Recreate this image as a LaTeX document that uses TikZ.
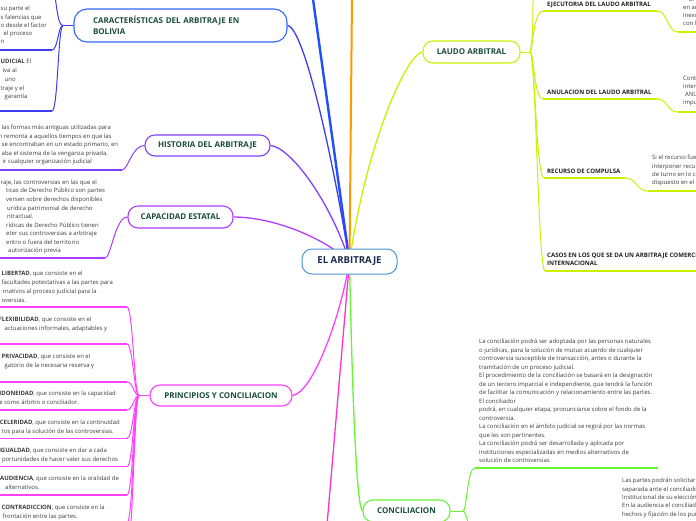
\documentclass[tikz,border=0pt]{standalone}
\usepackage{fontspec}
\setmainfont{Open Sans}
\usetikzlibrary{backgrounds}
\definecolor{cblue}{HTML}{1F4FFF}
\definecolor{corange}{HTML}{FF9A00}
\definecolor{ccar}{HTML}{3366FF}
\definecolor{ccarl}{HTML}{3C3CF0}
\definecolor{chist}{HTML}{8040FF}
\definecolor{ccap}{HTML}{B03CFF}
\definecolor{cprin}{HTML}{FF40FF}
\definecolor{cmag}{HTML}{FF33CC}
\definecolor{claudo}{HTML}{CCF000}
\definecolor{cconc}{HTML}{66F533}
\definecolor{croot}{HTML}{4D94D5}
\definecolor{hcol}{HTML}{1B4D3E}
\definecolor{rcol}{HTML}{1B2B4B}
\definecolor{tcol}{HTML}{3A3A3A}
\definecolor{scol}{HTML}{222222}
\tikzset{
  topic/.style={draw, rounded corners=10pt, line width=1.1pt, fill=white, text=hcol,
    font=\bfseries\fontsize{8}{10.5}\selectfont, inner sep=0pt, align=center},
  rootbox/.style={draw=croot, line width=1pt, rounded corners=10pt, fill=white, text=rcol,
    font=\bfseries\fontsize{9.6}{11}\selectfont, inner sep=0pt},
  sublbl/.style={text=scol, font=\bfseries\fontsize{6.1}{8}\selectfont, inner sep=0pt,
    anchor=north west, align=left},
  leaf/.style={text=tcol, font=\fontsize{5.95}{#1}\selectfont, inner sep=0pt,
    anchor=north west, align=left},
  leaf/.default=8.5,
  conn/.style={line width=1pt},
  uline/.style={line width=1.5pt},
  trunk/.style={line width=1.3pt},
}
\begin{document}
\begin{tikzpicture}[x=1pt,y=-1pt]
\useasboundingbox (0,0) rectangle (696,520);
\clip (0,0) rectangle (696,520);

% ---------- topic nodes ----------
\node[rootbox, minimum width=95pt, minimum height=25pt] (root) at (349.5,261.5) {EL ARBITRAJE};
\node[topic, draw=ccar, rounded corners=13pt, minimum width=213pt, minimum height=33pt,
  text width=175pt, align=left] (car) at (180.5,25.5) {CARACTERÍSTICAS DEL ARBITRAJE EN\\BOLIVIA};
\node[topic, draw=chist, minimum width=125pt, minimum height=21pt] (hist) at (207.5,145.5) {HISTORIA DEL ARBITRAJE};
\node[topic, draw=ccap, minimum width=105pt, minimum height=22pt] (cap) at (180.5,217) {CAPACIDAD ESTATAL};
\node[topic, draw=cprin, minimum width=142pt, minimum height=21pt] (prin) at (221,395.5) {PRINCIPIOS Y CONCILIACION};
\node[topic, draw=claudo, minimum width=97pt, minimum height=22pt] (laudo) at (471.5,52) {LAUDO ARBITRAL};
\node[topic, draw=cconc, minimum width=87pt, minimum height=22pt] (conc) at (406.5,511) {CONCILIACION};

% ---------- free ends ----------
\coordinate (topblue) at (312.7,-3);
\coordinate (toporange) at (352,-3);
\coordinate (botmag) at (327,525);
\coordinate (lj) at (530,52);
\coordinate (cj0) at (63,25.5);
\coordinate (pj) at (139,395.5);
\coordinate (cj) at (463,511);

% ---------- main connectors (behind the boxes) ----------
\begin{scope}[on background layer]
\draw[cblue, line width=2.4pt] (root.center) -- (topblue);
\draw[corange, line width=2pt] (root.center) -- (toporange);
\draw[ccarl, trunk] (car.east) .. controls (305,28) and (335,170) .. (root.center);
\draw[chist, trunk] (hist.east) .. controls (290,147) and (330,200) .. (root.center);
\draw[ccap, trunk] (cap.east) .. controls (270,217) and (320,235) .. (root.center);
\draw[claudo, trunk] (laudo.west) .. controls (405,55) and (365,150) .. (root.center);
\draw[cprin, trunk] (prin.east) .. controls (312,393) and (340,320) .. (root.center);
\draw[cmag, trunk] (root.center) -- (botmag);
\draw[cconc, trunk] (root.center) .. controls (352,380) and (356,505) .. (conc.west);
\end{scope}

% ---------- CARACTERISTICAS subtree ----------
\coordinate (cl1) at (-3,50);
\coordinate (cl2) at (-3,111);
\coordinate (cl1e) at (52,50);
\coordinate (cl2e) at (52,111);
\draw[ccarl, conn] (car.west) -- (cj0);
\draw[ccarl, conn] (cj0) .. controls (58,25.5) and (57,8) .. (55,-3);
\draw[ccarl, conn] (cj0) .. controls (58,25.5) and (58,50) .. (cl1e);
\draw[ccarl, conn] (cj0) .. controls (58,25.5) and (58,111) .. (cl2e);
\draw[ccarl, uline] (cl1e) -- (cl1);
\draw[ccarl, uline] (cl2e) -- (cl2);
\node[leaf=8.25] (carl1) at (0.5,6.2) {su parte el\\s falencias que\\o desde el factor\\\hspace*{3pt}el proceso\\n};
\node[leaf=8.7] (carl2) at (0.5,59.2) {\textbf{UDICIAL} El\\\hspace*{2pt}iva al\\\hspace*{4pt}uno\\traje y el\\\hspace*{4pt}garantía};

% ---------- HISTORIA subtree ----------
\coordinate (hl) at (-3,170);
\coordinate (hle) at (122,170);
\draw[chist, conn] (hist.west) .. controls (132,145.5) and (128,170) .. (hle);
\draw[chist, uline] (hle) -- (hl);
\node[leaf=8.6] (histl) at (1.5,124.7) {las formas más antiguas utilizadas para\\\hspace*{-3pt}n remonta a aquellos tiempos en que las\\se encontraban en un estado primario, en\\aba el sistema de la venganza privada,\\\hspace*{1pt}ir cualquier organización judicial};

% ---------- CAPACIDAD subtree ----------
\coordinate (cpl) at (-3,258);
\coordinate (cple) at (105,258);
\draw[ccap, conn] (cap.west) .. controls (115,217) and (111,258) .. (cple);
\draw[ccap, uline] (cple) -- (cpl);
\node[leaf=8.55] (capl) at (6,179.7) {\hspace*{-5.5pt}raje, las controversias en las que el\\ticas de Derecho Público son partes\\versen sobre derechos disponibles\\\hspace*{1pt}urídica patrimonial de derecho\\\hspace*{1pt}ntractual.\\rídicas de Derecho Público tienen\\eter sus controversias a arbitraje\\entro o fuera del territorio\\\hspace*{2pt}autorización previa};

% ---------- PRINCIPIOS subtree ----------
\draw[cprin, conn] (prin.west) -- (pj);
\foreach \yy/\nm in {307/p1,344/p2,382/p3,410/p4,438.3/p5,466.7/p6,495/p7,523/p8,552/p9} {
  \coordinate (\nm e) at (127,\yy);
  \coordinate (\nm s) at (-3,\yy);
  \draw[cprin, conn] (pj) .. controls (134,395.5) and (133,\yy) .. (\nm e);
  \draw[cprin, uline] (\nm e) -- (\nm s);
}
\node[leaf=8.7] (lib) at (1.5,271.2) {\textbf{LIBERTAD}, que consiste en el\\facultades potestativas a las partes para\\\hspace*{1pt}rnativos al proceso judicial para la\\oversias.};
\node[leaf=8.7] (flex) at (-1.5,317.2) {\textbf{FLEXIBILIDAD}, que consiste en el\\\hspace*{6pt}actuaciones informales, adaptables y};
\node[leaf=8.7] (priv) at (1.5,354.2) {\textbf{PRIVACIDAD}, que consiste en el\\\hspace*{3pt}gatorio de la necesaria reserva y};
\node[leaf=8.7] (idon) at (-0.8,391.2) {\textbf{IDONEIDAD}, que consiste en la capacidad\\e como árbitro o conciliador.};
\node[leaf=8.3] (celer) at (-0.3,420.2) {\textbf{CELERIDAD}, que consiste en la continuidad\\\hspace*{2pt}tos para la solución de las controversias.};
\node[leaf=8.7] (igual) at (-1.2,448.2) {\textbf{IGUALDAD}, que consiste en dar a cada\\\hspace*{3pt}portunidades de hacer valer sus derechos};
\node[leaf=8.7] (aud) at (0,476.2) {\textbf{AUDIENCIA}, que consiste en la oralidad de\\\hspace*{5pt}alternativos.};
\node[leaf=8.3] (contr) at (1.5,505.2) {\textbf{CONTRADICCION}, que consiste en la\\\hspace*{1pt}frontación entre las partes.};

% ---------- LAUDO subtree ----------
\coordinate (ltop) at (533,-3);
\coordinate (l1s) at (543,11);   \coordinate (l1e) at (657,11);
\coordinate (l2s) at (543,99);   \coordinate (l2e) at (657,99);
\coordinate (l3s) at (544,178);  \coordinate (l3e) at (625,178);
\coordinate (l4s) at (545,271);  \coordinate (l4e) at (700,271);
\coordinate (lf1) at (678,32);   \coordinate (lf1e) at (700,32);
\coordinate (lf2) at (678,112);  \coordinate (lf2e) at (700,112);
\coordinate (lf3) at (648,191);  \coordinate (lf3e) at (700,191);
\draw[claudo, conn] (laudo.east) -- (lj);
\draw[claudo, conn] (lj) .. controls (533,40) and (533,15) .. (ltop);
\draw[claudo, conn] (lj) .. controls (533,52) and (533,11) .. (l1s);
\draw[claudo, conn] (lj) .. controls (534,52) and (534,99) .. (l2s);
\draw[claudo, conn] (lj) .. controls (535,52) and (536,178) .. (l3s);
\draw[claudo, conn] (lj) .. controls (536,52) and (538,271) .. (l4s);
\draw[claudo, uline] (l1s) -- (l1e);
\draw[claudo, uline] (l2s) -- (l2e);
\draw[claudo, uline] (l3s) -- (l3e);
\draw[claudo, uline] (l4s) -- (l4e);
\draw[claudo, conn] (l1e) .. controls (668,11) and (667,32) .. (lf1);
\draw[claudo, conn] (l2e) .. controls (668,99) and (667,112) .. (lf2);
\draw[claudo, conn] (l3e) .. controls (637,178) and (636,191) .. (lf3);
\draw[claudo, uline] (lf1) -- (lf1e);
\draw[claudo, uline] (lf2) -- (lf2e);
\draw[claudo, uline] (lf3) -- (lf3e);
\node[sublbl] (ejec) at (547,1.8) {EJECUTORIA DEL LAUDO ARBITRAL};
\node[sublbl] (anul) at (547,89.8) {ANULACION DEL LAUDO ARBITRAL};
\node[sublbl] (recu) at (547,168.8) {RECURSO DE COMPULSA};
\node[sublbl] (casos) at (547,252.8) {CASOS EN LOS QUE SE DA UN ARBITRAJE COMERCIAL\\INTERNACIONAL};
\node[leaf=8] (ejl) at (683,-2.8) {\hspace*{6pt}El laudo\\en arbitraje\\inexorable\\con la};
\node[leaf=8] (anl) at (683,76.2) {Contra\\interpuesto\\\hspace*{2pt}ANULACIÓN\\impugnación};
\node[leaf=8.3] (rcl) at (652,155) {Si el recurso fuera\\interponer recurso\\de turno en lo civil\\dispuesto en el art.};

% ---------- CONCILIACION subtree ----------
\coordinate (c1s) at (475,468);
\coordinate (c1e) at (658,468);
\coordinate (c2s) at (477,534);
\draw[cconc, conn] (conc.east) -- (cj);
\draw[cconc, conn] (cj) .. controls (467,511) and (467,468) .. (c1s);
\draw[cconc, conn] (cj) .. controls (467,511) and (468,534) .. (c2s);
\draw[cconc, uline] (c1s) -- (c1e);
\node[leaf=8.5] (conl) at (479,339.2) {La conciliación podrá ser adoptada por las personas naturales\\o jurídicas, para la solución de mutuo acuerdo de cualquier\\controversia susceptible de transacción, antes o durante la\\tramitación de un proceso judicial.\\El procedimiento de la conciliación se basará en la designación\\de un tercero imparcial e independiente, que tendrá la función\\de facilitar la comunicación y relacionamiento entre las partes.\\El conciliador\\podrá, en cualquier etapa, pronunciarse sobre el fondo de la\\controversia.\\La conciliación en el ámbito judicial se regirá por las normas\\que les son pertinentes.\\La conciliación podrá ser desarrollada y aplicada por\\instituciones especializadas en medios alternativos de\\solución de controversias};
\node[leaf=8.3] (con2) at (622,478.2) {Las partes podrán solicitar la\\separada ante el conciliador\\Institucional de su elección.\\En la audiencia el conciliador\\hechos y fijación de los puntos};
\end{tikzpicture}
\end{document}
